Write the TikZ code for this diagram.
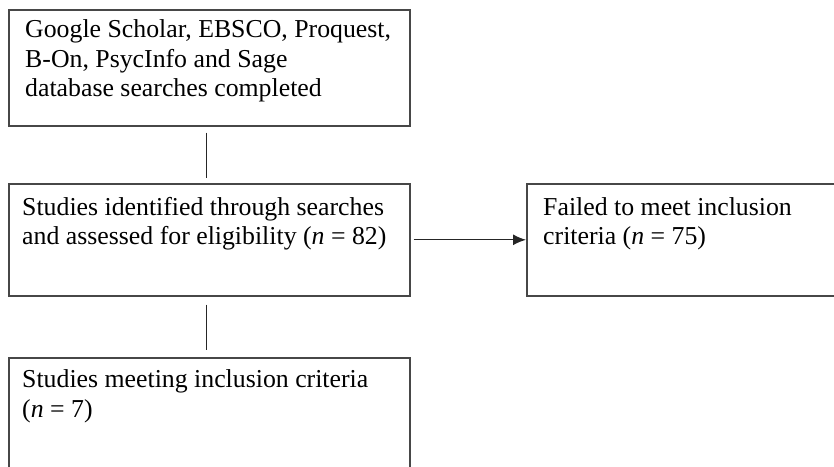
\documentclass[tikz,border=0pt]{standalone}
\usepackage{fontspec}
\setmainfont{Liberation Serif}
\usetikzlibrary{arrows.meta}
\begin{document}
\begin{tikzpicture}[x=1pt,y=1pt,
  box/.style={draw=black!72, line width=1.6pt, rectangle, inner sep=0pt, anchor=north west},
  txt/.style={anchor=base west, inner sep=0pt, align=left, font=\fontsize{25.8}{29.5}\selectfont},
  conn/.style={draw=black!85, line width=1.4pt}]
\useasboundingbox (0,0) rectangle (834,466);
\node[box, minimum width=401pt, minimum height=116pt] (b1) at (8,457) {};
\node[box, minimum width=401pt, minimum height=112pt] (b2) at (8,283) {};
\node[box, minimum width=330pt, minimum height=112pt] (b3) at (526,283) {};
\node[box, minimum width=401pt, minimum height=140pt] (b4) at (8,109) {};
\node[txt] (t1) at (25,369) {Google Scholar, EBSCO, Proquest,\\B-On, PsycInfo and Sage\\database searches completed};
\node[txt] (t2) at (22,221) {Studies identified through searches\\and assessed for eligibility (\textit{n} = 82)};
\node[txt] (t3) at (543,221) {Failed to meet inclusion\\criteria (\textit{n} = 75)};
\node[txt] (t4) at (22,49) {Studies meeting inclusion criteria\\(\textit{n} = 7)};
\draw[conn] ([xshift=-3pt,yshift=-6pt]b1.south) -- ([xshift=-3pt,yshift=5pt]b2.north);
\draw[conn] ([xshift=-3pt,yshift=-8pt]b2.south) -- ([xshift=-3pt,yshift=7pt]b4.north);
\draw[conn, -{Latex[length=13pt,width=11pt]}] ([xshift=3pt]b2.east) -- (b3.west);
\end{tikzpicture}
\end{document}
